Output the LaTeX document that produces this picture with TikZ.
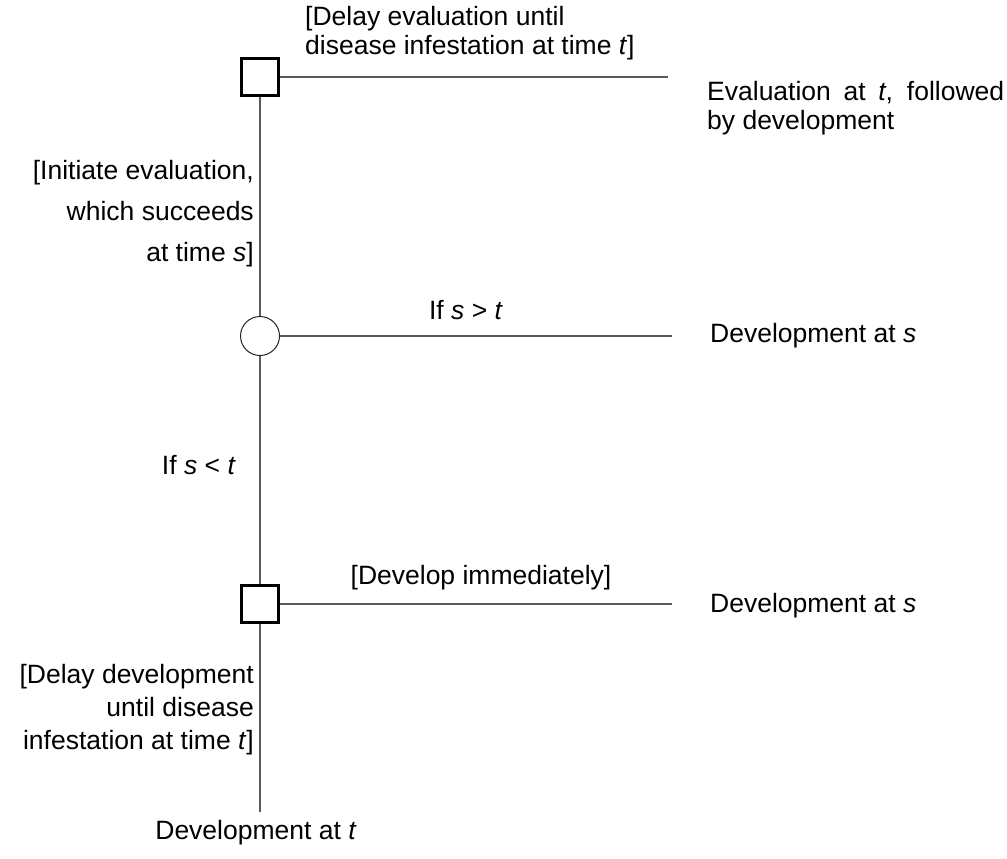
\documentclass[tikz,border=0pt]{standalone}
\usepackage{fontspec}
\setmainfont{Liberation Sans}
\begin{document}
\begin{tikzpicture}[x=1pt,y=-1pt,
  every node/.style={font=\fontsize{26.5}{29}\selectfont, inner sep=0pt, text=black},
  sq/.style={draw=black, line width=2.8pt, minimum size=37pt, fill=white},
  circ/.style={draw=black!85, line width=1pt, circle, minimum size=39pt},
  ln/.style={draw=black!65, line width=1.4pt}]
\useasboundingbox (0,0) rectangle (1007,859);
\node[sq] (d1) at (260,77) {};
\node[circ] (c1) at (260,336) {};
\node[sq] (d2) at (260,604) {};
\coordinate (e1) at (668,77);
\coordinate (e2) at (672,336);
\coordinate (e3) at (672,604);
\coordinate (e4) at (260,812);
\draw[ln] (d1.east) -- (e1);
\draw[ln] (c1.east) -- (e2);
\draw[ln] (d2.east) -- (e3);
\draw[ln] (d1.south) -- (c1.north);
\draw[ln] (c1.south) -- (d2.north);
\draw[ln] (d2.south) -- (e4);
\node[anchor=west, align=left] (l1) at (305,33) {[Delay evaluation until\\disease infestation at time \textit{t}]};
\node[anchor=west, align=left] (r1) at (707,108) {\makebox[297pt][s]{Evaluation at \textit{t}, followed}\\by development};
\node[anchor=east, align=right, font=\fontsize{26.5}{41}\selectfont] (l2) at (254,214) {[Initiate evaluation,\\which succeeds\\at time \textit{s}]};
\node (l3) at (466,310) {If \textit{s} > \textit{t}};
\node[anchor=west] (r2) at (710,336) {Development at \textit{s}};
\node[anchor=east] (l4) at (236,465) {If \textit{s} < \textit{t}};
\node (l5) at (481,578) {[Develop immediately]};
\node[anchor=west] (r3) at (710,606) {Development at \textit{s}};
\node[anchor=east, align=right, font=\fontsize{26.5}{33}\selectfont] (l6) at (254,710) {[Delay development\\until disease\\infestation at time \textit{t}]};
\node (r4) at (256,833) {Development at \textit{t}};
\end{tikzpicture}
\end{document}
